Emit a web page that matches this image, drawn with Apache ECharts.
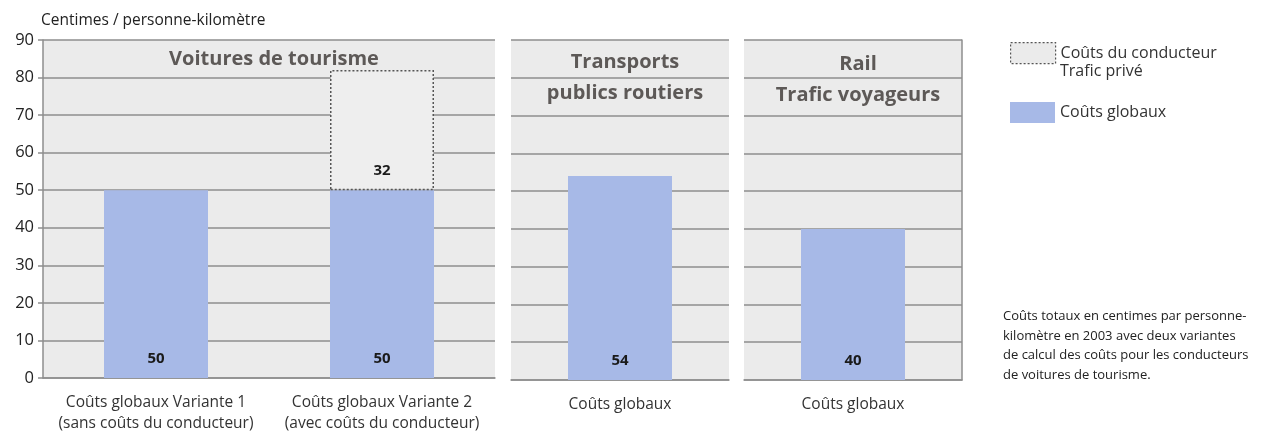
<!DOCTYPE html>
<html>
  <head>
    <meta charset="utf-8" />
    <title>Coûts totaux par personne-kilomètre</title>
    <script src="https://cdn.jsdelivr.net/npm/echarts@6/dist/echarts.min.js"></script>
  </head>
  <body style="margin: 0">
    <div id="main" style="width: 1281px; height: 434px"></div>
    <script type="text/javascript">
      // data
      var panelTitles = ["Voitures de tourisme", "Transports\npublics routiers", "Rail\nTrafic voyageurs"];
      var carCategories = ["Coûts globaux Variante 1\n(sans coûts du conducteur)", "Coûts globaux Variante 2\n(avec coûts du conducteur)"];
      var busCategories = ["Coûts globaux"];
      var railCategories = ["Coûts globaux"];
      var carGlobal = [50, 50];
      var carDriver = ["-", 32];
      var busGlobal = [54];
      var railGlobal = [40];

      var FONT = "Open Sans";
      var BLUE = "#a7b9e7";
      var GRIDLINE = "#8e8e8e";

      var myChart = echarts.init(document.getElementById("main"));

      var grids = [
        { left: 43, top: 40, width: 452, height: 340 },
        { left: 511, top: 40, width: 218, height: 340 },
        { left: 744, top: 40, width: 218, height: 340 },
      ];
      grids.forEach(function (g) {
        g.show = true;
        g.backgroundColor = "#ebebeb";
        g.borderWidth = 0;
      });

      function xAxisFor(idx, data) {
        return {
          type: "category",
          gridIndex: idx,
          data: data,
          axisLine: { show: true, lineStyle: { color: GRIDLINE, width: 1.5 } },
          axisTick: { show: false },
          axisLabel: {
            interval: 0,
            hideOverlap: false,
            fontFamily: FONT,
            fontSize: 15.5,
            color: "#333",
            lineHeight: 21,
            margin: 14,
          },
        };
      }

      function yAxisFor(idx, showLabels) {
        return {
          type: "value",
          gridIndex: idx,
          min: 0,
          max: 90,
          interval: 10,
          axisLine: { show: showLabels, lineStyle: { color: GRIDLINE, width: 1.5 } },
          axisTick: { show: showLabels, length: 5, lineStyle: { color: GRIDLINE, width: 1.5 } },
          axisLabel: { show: showLabels, fontFamily: FONT, fontSize: 16.5, color: "#222", margin: 9 },
          splitLine: { show: true, lineStyle: { color: GRIDLINE, width: 1.5 } },
          name: showLabels ? "Centimes / personne-kilomètre" : "",
          nameLocation: "end",
          nameGap: 11,
          nameTextStyle: { fontFamily: FONT, fontSize: 15.5, color: "#222", align: "left", padding: [0, 0, 0, -2] },
        };
      }

      var valueLabel = {
        show: true,
        position: "insideBottom",
        distance: 12,
        fontFamily: FONT,
        fontSize: 15,
        fontWeight: "bold",
        color: "#1a1a1a",
      };

      var titleStyle = { fontFamily: FONT, fontSize: 20, fontWeight: "bold", color: "#5d5957", lineHeight: 31 };
      var legendText = { fontFamily: FONT, fontSize: 16, color: "#333" };

      var option = {
        animation: false,
        grid: grids,
        title: [
          { text: panelTitles[0], left: 269, top: 39, textAlign: "center", textStyle: titleStyle },
          { text: panelTitles[1], left: 620, top: 42, textAlign: "center", textStyle: titleStyle },
          { text: panelTitles[2], left: 853, top: 44, textAlign: "center", textStyle: titleStyle },
        ],
        legend: [
          {
            orient: "vertical",
            left: 1005,
            top: 37,
            itemWidth: 45,
            itemHeight: 21,
            icon: "rect",
            selectedMode: false,
            data: [
              {
                name: "Coûts du conducteur",
                itemStyle: { color: "#ebebeb", borderColor: "#555", borderType: [2, 2], borderWidth: 1.2 },
              },
            ],
            textStyle: legendText,
          },
          {
            orient: "vertical",
            left: 1005,
            top: 97,
            itemWidth: 45,
            itemHeight: 21,
            icon: "rect",
            selectedMode: false,
            data: [{ name: "Coûts globaux", itemStyle: { color: BLUE, borderWidth: 0 } }],
            textStyle: legendText,
          },
        ],
        xAxis: [xAxisFor(0, carCategories), xAxisFor(1, busCategories), xAxisFor(2, railCategories)],
        yAxis: [
          yAxisFor(0, true),
          yAxisFor(1, false),
          yAxisFor(2, false),
          {
            type: "value",
            gridIndex: 2,
            position: "right",
            min: 0,
            max: 90,
            interval: 10,
            axisLine: { show: true, lineStyle: { color: GRIDLINE, width: 1.5 } },
            axisTick: { show: false },
            axisLabel: { show: false },
            splitLine: { show: false },
          },
        ],
        graphic: [
          {
            // second line of the first legend entry
            type: "text",
            left: 1060,
            top: 63,
            style: { text: "Trafic privé", font: "16px 'Open Sans'", fill: "#333" },
          },
          {
            type: "text",
            left: 1003,
            top: 307,
            style: {
              text: "Coûts totaux en centimes par personne-\nkilomètre en 2003 avec deux variantes\nde calcul des coûts pour les conducteurs\nde voitures de tourisme.",
              font: "13px 'Open Sans'",
              lineHeight: 19.5,
              fill: "#222",
            },
          },
        ],
        series: [
          {
            name: "Coûts globaux",
            type: "bar",
            xAxisIndex: 0,
            yAxisIndex: 0,
            stack: "cars",
            barWidth: 104,
            data: carGlobal,
            itemStyle: { color: BLUE },
            label: valueLabel,
          },
          {
            name: "Coûts du conducteur",
            type: "bar",
            xAxisIndex: 0,
            yAxisIndex: 0,
            stack: "cars",
            barWidth: 104,
            data: carDriver,
            itemStyle: { color: "#eeeeee", borderColor: "#555", borderType: [2, 2], borderWidth: 1.5 },
            label: valueLabel,
          },
          {
            name: "Coûts globaux",
            type: "bar",
            xAxisIndex: 1,
            yAxisIndex: 1,
            barWidth: 104,
            data: busGlobal,
            itemStyle: { color: BLUE },
            label: valueLabel,
          },
          {
            name: "Coûts globaux",
            type: "bar",
            xAxisIndex: 2,
            yAxisIndex: 2,
            barWidth: 104,
            data: railGlobal,
            itemStyle: { color: BLUE },
            label: valueLabel,
          },
        ],
      };

      myChart.setOption(option);
    </script>
  </body>
</html>
